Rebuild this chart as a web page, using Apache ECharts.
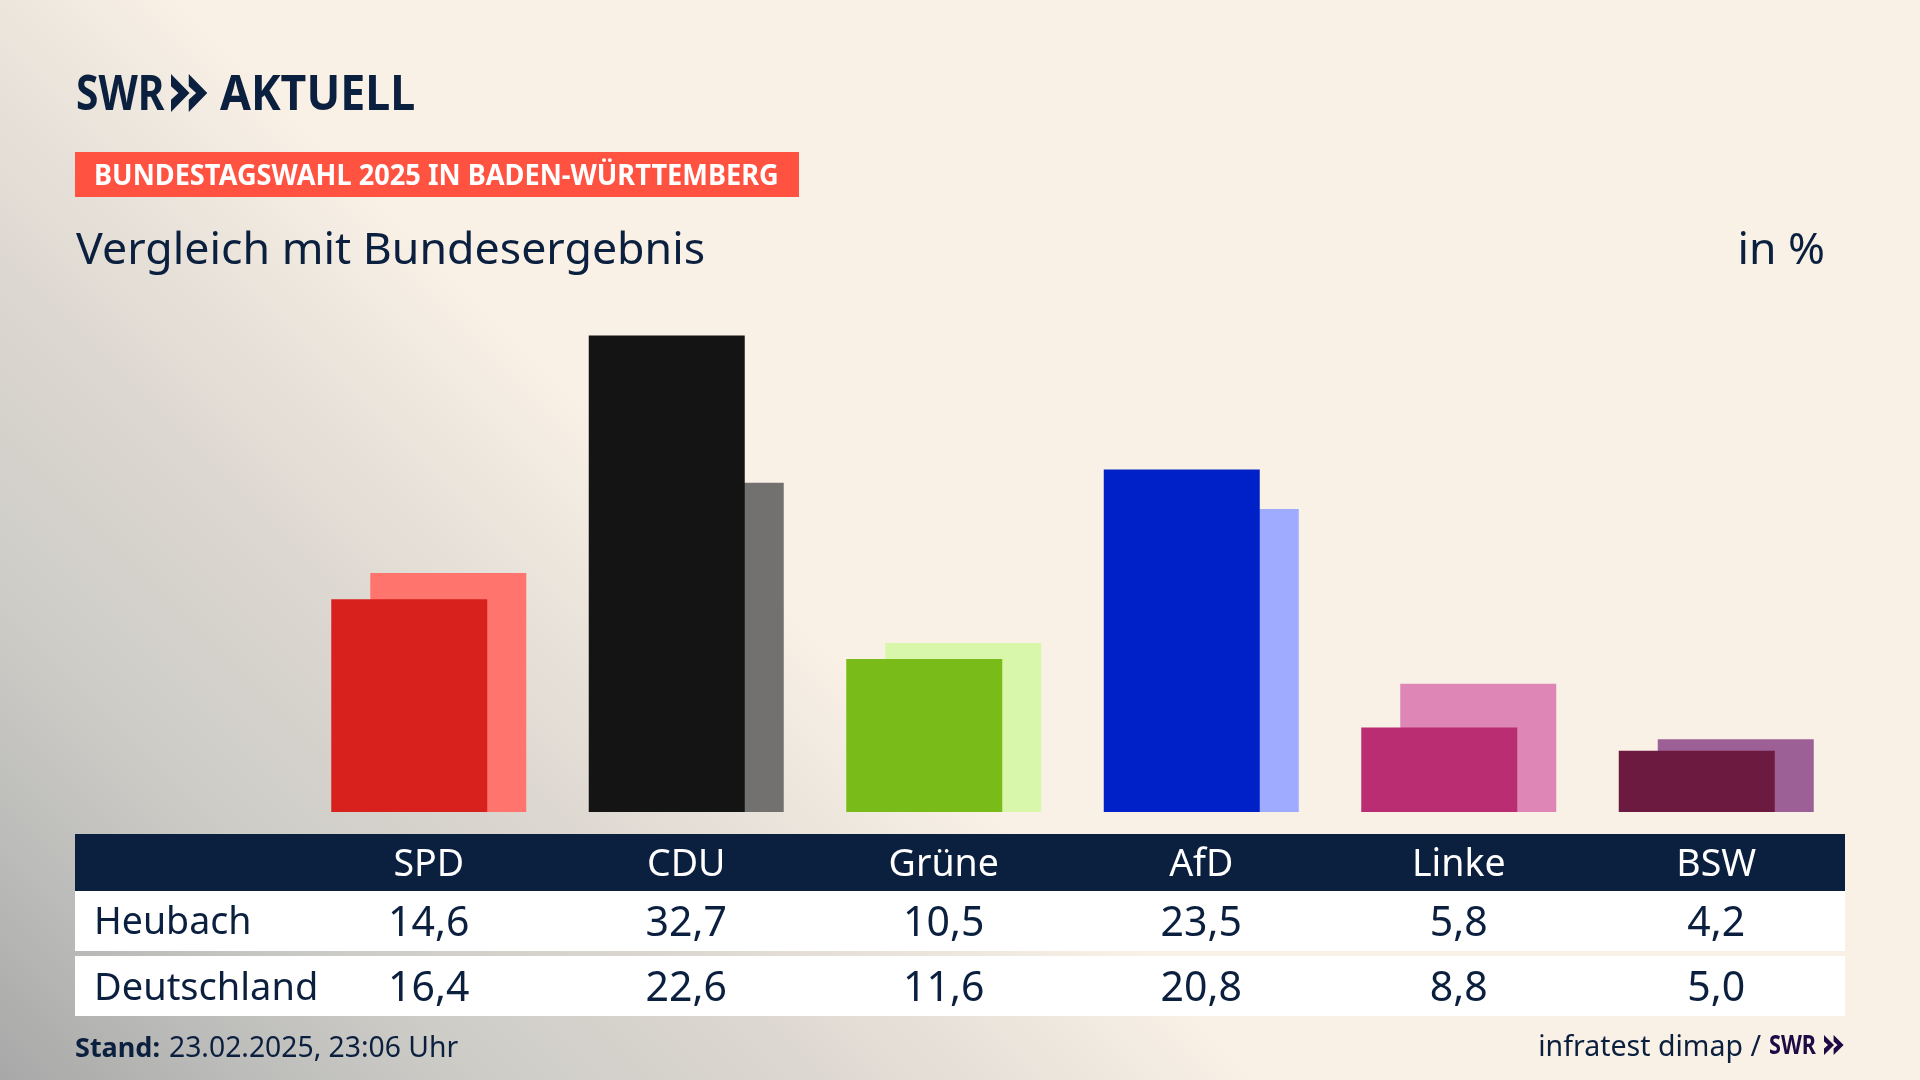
<!DOCTYPE html>
<html>
<head>
<meta charset="utf-8">
<style>
  html, body { margin: 0; padding: 0; background: #faf1e6; }
  #chart { width: 1920px; height: 1080px; }
</style>
<script src="https://cdn.jsdelivr.net/npm/echarts@6/dist/echarts.min.js"></script>
</head>
<body>
<div id="chart"></div>
<script>
const parties = ['SPD', 'CDU', 'Grüne', 'AfD', 'Linke', 'BSW'];
const heubach = [14.6, 32.7, 10.5, 23.5, 5.8, 4.2];
const deutschland = [16.4, 22.6, 11.6, 20.8, 8.8, 5.0];
const frontColors = ['#d8201c', '#141414', '#79bc1a', '#0021c7', '#bb2d73', '#6c1a40'];
const backColors = ['#ff756e', '#73716f', '#d9f7aa', '#9eabff', '#de86b5', '#9c5f96'];

const NAVY = '#0b1f3f';
const FONT = '"Noto Sans"';

const fmt = (v) => v.toFixed(1).replace('.', ',');

function labelAxis(data, margin, color, size) {
  return {
    type: 'category',
    data,
    position: 'bottom',
    axisLine: { show: false },
    axisTick: { show: false },
    axisLabel: {
      show: true,
      interval: 0,
      margin,
      color,
      fontFamily: FONT,
      fontSize: size,
      verticalAlign: 'middle',
    },
  };
}

function text(x, y, str, size, opts = {}) {
  return {
    type: 'text',
    x,
    y,
    scaleX: opts.scaleX || 1,
    style: {
      text: str,
      fontFamily: FONT,
      fontSize: size,
      fontWeight: opts.weight || 'normal',
      fill: opts.fill || NAVY,
      align: opts.align || 'left',
      verticalAlign: 'middle',
    },
  };
}

function rect(x, y, width, height, fill) {
  return { type: 'rect', z: -1, shape: { x, y, width, height }, style: { fill } };
}

// the two arrows of the SWR logo
function chevrons(x, y, w, h, fill) {
  const one = (left) => ({
    type: 'polygon',
    shape: {
      points: [
        [left, y],
        [left + w * 0.5, y + h / 2],
        [left, y + h],
        [left, y + h * 0.68],
        [left + w * 0.2, y + h / 2],
        [left, y + h * 0.32],
      ],
    },
    style: { fill },
  });
  return [one(x), one(x + w * 0.48)];
}

const graphic = [
  rect(75, 152, 724, 45, '#ff5240'),
  rect(75, 834, 1770, 57, NAVY),
  rect(75, 891, 1770, 60, '#ffffff'),
  rect(75, 956, 1770, 60, '#ffffff'),

  text(76, 96, 'SWR', 49, { weight: 'bold', scaleX: 0.83 }),
  ...chevrons(171, 74, 37, 38, NAVY),
  text(220, 96, 'AKTUELL', 49, { weight: 'bold', scaleX: 0.912 }),

  text(94, 177, 'BUNDESTAGSWAHL 2025 IN BADEN-WÜRTTEMBERG', 28, { weight: 'bold', fill: '#ffffff', scaleX: 0.971 }),
  text(76, 251, 'Vergleich mit Bundesergebnis', 44, { scaleX: 1.016 }),
  text(1825, 251, 'in %', 44.5, { align: 'right' }),

  text(94, 923, 'Heubach', 37.5),
  text(94, 989, 'Deutschland', 38),

  text(75, 1049, 'Stand:', 27, { weight: 'bold' }),
  text(169, 1049, '23.02.2025, 23:06 Uhr', 28.3),
  text(1761, 1048, 'infratest dimap /', 28.5, { align: 'right' }),
  text(1769, 1046, 'SWR', 27, { weight: 'bold', fill: '#1f0a45', scaleX: 0.8 }),
  ...chevrons(1824, 1035, 20, 20, '#1f0a45'),
];

const chart = echarts.init(document.getElementById('chart'));
chart.setOption({
  animation: false,
  backgroundColor: {
    type: 'linear',
    global: true,
    x: 0,
    y: 1080,
    x2: 635,
    y2: 445,
    colorStops: [
      { offset: 0, color: '#a8a8a8' },
      { offset: 0.197, color: '#bcbcba' },
      { offset: 0.378, color: '#cdccc7' },
      { offset: 0.638, color: '#dcd7d0' },
      { offset: 0.85, color: '#ece6dd' },
      { offset: 1, color: '#faf1e6' },
    ],
  },
  grid: { left: 300, right: 75, top: 302, bottom: 268 },
  xAxis: [
    {
      type: 'category',
      data: parties,
      axisLine: { show: false },
      axisTick: { show: false },
      axisLabel: { show: false },
    },
    labelAxis(parties, 53, '#ffffff', 37.5),
    labelAxis(heubach.map(fmt), 112, NAVY, 41),
    labelAxis(deutschland.map(fmt), 177, NAVY, 41),
  ],
  yAxis: { type: 'value', min: 0, max: 35, show: false },
  series: [
    {
      name: 'Heubach',
      type: 'bar',
      z: 3,
      barWidth: 156,
      barGap: '-75%',
      data: heubach.map((value, i) => ({ value, itemStyle: { color: frontColors[i] } })),
    },
    {
      name: 'Deutschland',
      type: 'bar',
      z: 2,
      barWidth: 156,
      data: deutschland.map((value, i) => ({ value, itemStyle: { color: backColors[i] } })),
    },
  ],
  graphic,
});
</script>
</body>
</html>
